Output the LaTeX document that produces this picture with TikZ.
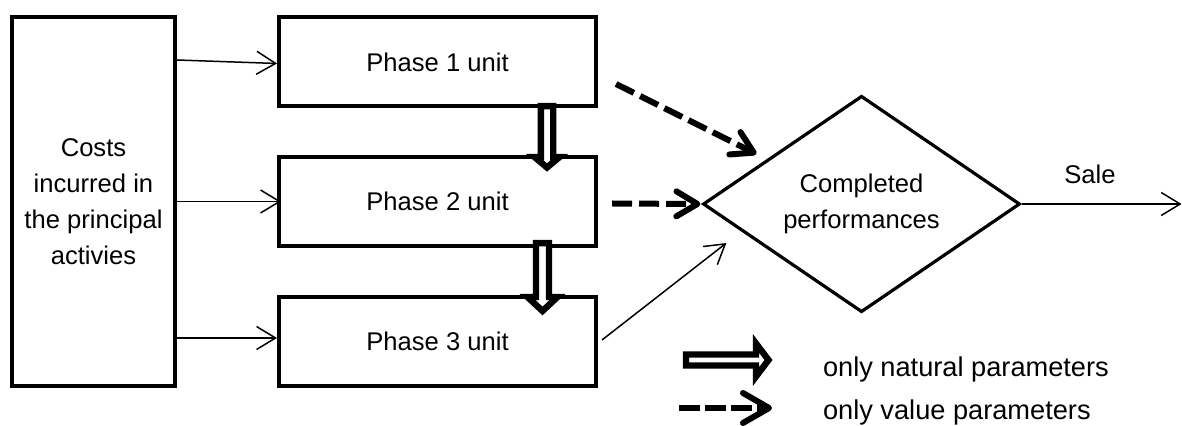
\documentclass[tikz,border=0pt]{standalone}
\usepackage{fontspec}
\setmainfont{Liberation Sans}
\usetikzlibrary{arrows.meta,calc,shapes.geometric}

\begin{document}
\begin{tikzpicture}[x=0.5pt,y=-0.5pt,
  every node/.style={font=\fontsize{12.8}{18}\selectfont},
  legendtext/.style={anchor=base west, font=\fontsize{13.6}{18}\selectfont},
  box/.style={draw, line width=2pt, inner sep=0pt, align=center},
  unitbox/.style={box, minimum width=158.5pt, minimum height=44.5pt},
  thinarrow/.style={line width=0.75pt, -{Straight Barb[length=9.5pt,width=11.5pt]}},
  valarrow/.style={line width=3pt, dash pattern=on 10pt off 3.5pt,
    -{Straight Barb[length=10.5pt,width=12.5pt,round]}},
  hollow/.style={draw, line width=3.2pt, fill=white, line join=miter, miter limit=10},
]
\useasboundingbox (0,0) rectangle (1182,426);

% cost source and the three production phases
\node[box, minimum width=81.5pt, minimum height=184.5pt] (costs) at (93.5,201.5)
  {Costs\\incurred in\\the principal\\activies};
\node[unitbox] (p1) at (437.5,62) {Phase 1 unit};
\node[unitbox] (p2) at (437.5,201.5) {Phase 2 unit};
\node[unitbox] (p3) at (437.5,341.5) {Phase 3 unit};

% outcome
\node[draw, diamond, line width=1.6pt, minimum width=158.5pt, minimum height=100pt,
  inner sep=0pt, align=center] (dia) at (861.5,204) {Completed\\performances};

% costs flowing into each phase
\draw[thinarrow] ($(costs.east |- p1.west)+(0,-2)$) -- ($(p1.west)+(0,1.5)$);
\draw[thinarrow] (costs.east) -- ($(p2.west)+(4,0)$);
\draw[thinarrow] ($(costs.east |- p3.west)+(0,-3.5)$) -- ($(p3.west)+(0,-3.5)$);

% phases to completed performances
\draw[valarrow] ($(p1.east)+(18,22)$) -- ($(dia.west)+(55,-50)$);
\draw[valarrow] ($(p2.east)+(14,2)$) -- ($(dia.west)+(-1,0)$);
\draw[thinarrow] ($(p3.east)+(4,-1.5)$) -- ($(dia.west)+(25,39)$);

% sale
\coordinate (saleend) at ($(dia.east)+(160,0)$);
\draw[thinarrow] (dia.east) -- (saleend);
\node[anchor=base] (salelbl) at (1090,184) {Sale};

% natural-parameter transfers between phases
\coordinate (a1) at ($(p1.south)+(109.5,-2.3)$);
\coordinate (b1) at ($(p2.north)+(109.5,2)$);
\draw[hollow] ($(a1)+(-6.2,0)$) -- ($(b1)+(-6.2,0)$) -- ($(b1)+(-12.5,0)$) -- ($(b1)+(0,10.5)$)
  -- ($(b1)+(12.5,0)$) -- ($(b1)+(6.2,0)$) -- ($(a1)+(6.2,0)$) -- cycle;
\coordinate (a2) at ($(p2.south)+(105,-4.8)$);
\coordinate (b2) at ($(p3.north)+(105,2)$);
\draw[hollow] ($(a2)+(-6.5,0)$) -- ($(b2)+(-6.5,0)$) -- ($(b2)+(-15,0)$) -- ($(b2)+(0,14)$)
  -- ($(b2)+(15,0)$) -- ($(b2)+(6.5,0)$) -- ($(a2)+(6.5,0)$) -- cycle;

% legend
\coordinate (la) at (686,360);
\coordinate (lb) at (756,360);
\draw[hollow] ($(la)+(0,-5.5)$) -- ($(lb)+(0,-5.5)$) -- ($(lb)+(0,-16.5)$) -- ($(lb)+(12.5,0)$)
  -- ($(lb)+(0,16.5)$) -- ($(lb)+(0,5.5)$) -- ($(la)+(0,5.5)$) -- cycle;
\node[legendtext] (lt1) at (816,377) {only natural parameters};
\coordinate (lc) at (679,408);
\coordinate (ld) at (772,408);
\draw[line width=3pt, dash pattern=on 10.5pt off 2.5pt,
  -{Straight Barb[length=13pt,width=15pt,round]}] (lc) -- (ld);
\node[legendtext] (lt2) at (816,420) {only value parameters};
\end{tikzpicture}
\end{document}
